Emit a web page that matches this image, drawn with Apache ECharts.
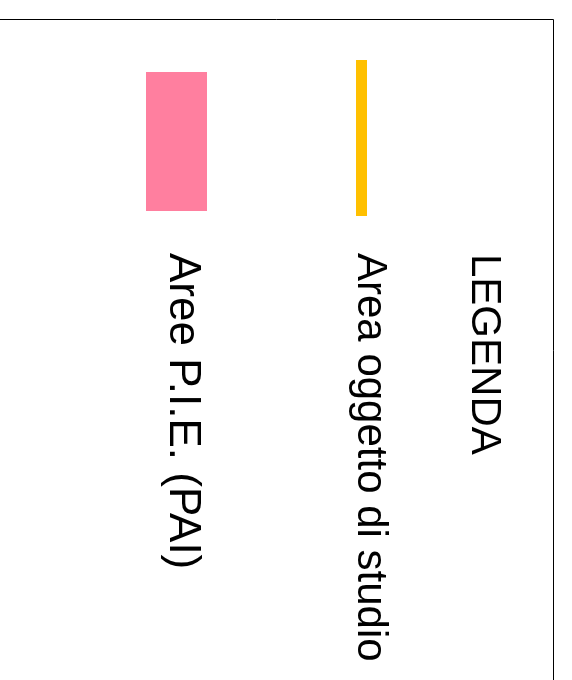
<!DOCTYPE html>
<html>
<head>
    <meta charset="utf-8" />
    <title>Legenda</title>
    <script src="https://cdn.jsdelivr.net/npm/echarts@6/dist/echarts.min.js"></script>
    <style>
        html, body { margin: 0; padding: 0; background: #fff; }
        #main { width: 572px; height: 680px; }
    </style>
</head>
<body>
    <div id="main"></div>
    <script>
        // testo e voci della legenda
        var legendTitle = 'LEGENDA';
        var itemLabels = ['Area oggetto di studio', 'Aree P.I.E. (PAI)'];
        var itemTypes = ['line', 'rect'];
        var itemColors = ['#ffc000', '#ff7f9f'];

        var chart = echarts.init(document.getElementById('main'), null, { renderer: 'canvas' });

        var fontFamily = '"Liberation Sans", Arial, sans-serif';
        var rot = -Math.PI / 2;   // testo ruotato in senso orario

        // colonne delle voci (centro x del testo e del simbolo)
        var textX = [370, 182];
        var textSize = [42, 44];
        var symbolX = [361.5, 176.5];

        var elements = [];
        // cornice
        elements.push({
            type: 'rect',
            shape: { x: -10.5, y: 19.5, width: 564, height: 700 },
            style: { fill: null, stroke: '#000', lineWidth: 1 }
        });
        // titolo
        elements.push({
            type: 'text',
            x: 484, y: 254, rotation: rot,
            style: { text: legendTitle, font: '42px ' + fontFamily, fill: '#000', textAlign: 'left', textVerticalAlign: 'middle' }
        });
        for (var i = 0; i < itemLabels.length; i++) {
            if (itemTypes[i] === 'line') {
                elements.push({
                    type: 'rect',
                    shape: { x: symbolX[i] - 5.5, y: 60, width: 11, height: 156 },
                    style: { fill: itemColors[i] }
                });
            } else {
                elements.push({
                    type: 'rect',
                    shape: { x: symbolX[i] - 30.5, y: 72, width: 61, height: 139 },
                    style: { fill: itemColors[i] }
                });
            }
            elements.push({
                type: 'text',
                x: textX[i], y: 253, rotation: rot,
                style: { text: itemLabels[i], font: textSize[i] + 'px ' + fontFamily, fill: '#000', textAlign: 'left', textVerticalAlign: 'middle' }
            });
        }

        chart.setOption({
            animation: false,
            backgroundColor: '#fff',
            graphic: { elements: elements }
        });
    </script>
</body>
</html>
